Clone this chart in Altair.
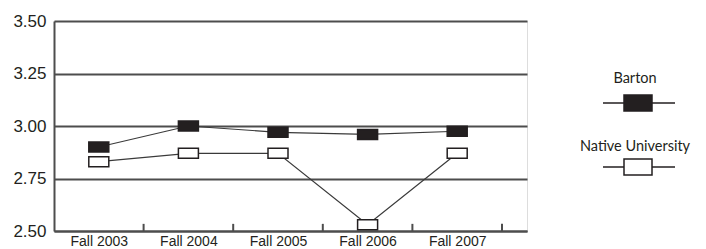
import altair as alt
import pandas as pd

categories = ["Fall 2003", "Fall 2004", "Fall 2005", "Fall 2006", "Fall 2007"]
barton = [2.90, 3.00, 2.97, 2.96, 2.975]
native = [2.83, 2.87, 2.87, 2.53, 2.87]
series_names = ["Barton", "Native University"]
y_ticks = [2.50, 2.75, 3.00, 3.25, 3.50]
band_edges = [1, 2, 3, 4, 5]

rows = []
for i, c in enumerate(categories):
    rows.append({"cat": c, "idx": i + 0.5, "series": "Barton", "value": barton[i]})
    rows.append({"cat": c, "idx": i + 0.5, "series": "Native University", "value": native[i]})
df = pd.DataFrame(rows)
ticks_df = pd.DataFrame({"edge": band_edges, "y0": [2.5] * 5, "y1": [2.534] * 5})

W, H = 473, 210
XMAX = W / 89.6
INK = "#231f20"
GRID = "#4d4d4d"
AXFONT = "Liberation Sans, Arial, sans-serif"
LEGEND_FONT = "Lato, Open Sans, sans-serif"

label_expr = "[" + ",".join('"%s"' % c for c in categories) + "][round(datum.value - 0.5)]"

x_scale = alt.Scale(domain=[0, XMAX], nice=False, zero=False)
y_scale = alt.Scale(domain=[2.5, 3.5], nice=False, zero=False)

x_enc = alt.X("idx:Q", scale=x_scale, axis=alt.Axis(
    values=[i + 0.5 for i in range(len(categories))], labelExpr=label_expr,
    ticks=False, grid=False, title=None, domainColor=GRID, domainWidth=2,
    labelFont=AXFONT, labelFontSize=14, labelColor=INK, labelPadding=3))
y_enc = alt.Y("value:Q", scale=y_scale, axis=alt.Axis(
    values=y_ticks, format=".2f", ticks=False, grid=True, gridColor=GRID,
    gridWidth=2, gridOpacity=1, domainColor=GRID, domainWidth=2, title=None,
    labelFont=AXFONT, labelFontSize=17, labelColor=INK, labelPadding=8))

base = alt.Chart(df)
lines = base.mark_line(color="#3a3a3a", strokeWidth=1.2).encode(
    x=x_enc, y=y_enc, detail="series:N")

box_shape = "M-1,-0.5H1V0.5H-1Z"
fill_scale = alt.Scale(domain=series_names, range=[INK, "white"])
points = base.mark_point(shape=box_shape, size=400, filled=True, opacity=1,
                         stroke=INK, strokeWidth=1.5).encode(
    x="idx:Q", y="value:Q",
    fill=alt.Fill("series:N", scale=fill_scale, legend=None))

tick_marks = alt.Chart(ticks_df).mark_rule(color=GRID, strokeWidth=2).encode(
    x="edge:Q", y="y0:Q", y2="y1:Q")

# legend drawn by hand to the right of the plot
leg_df = pd.DataFrame({"series": series_names})
leg_layers = []
leg_box = "M-1,-0.57H1V0.57H-1Z"
for name, ty, sy in [("Barton", 58, 82), ("Native University", 126, 146)]:
    src = alt.Chart(leg_df).transform_filter(alt.datum.series == name)
    leg_layers.append(src.mark_text(font=LEGEND_FONT, fontSize=14.5, color=INK,
                                    baseline="middle", align="center").encode(
        text="series:N", x=alt.value(581), y=alt.value(ty)))
    leg_layers.append(src.mark_rule(color=INK, strokeWidth=1.5).encode(
        x=alt.value(549), x2=alt.value(621), y=alt.value(sy)))
    leg_layers.append(src.mark_point(shape=leg_box, size=784, filled=True, opacity=1,
                                     stroke=INK, strokeWidth=1.5).encode(
        x=alt.value(584), y=alt.value(sy),
        fill=alt.Fill("series:N", scale=fill_scale, legend=None)))

chart = alt.layer(lines, tick_marks, points, *leg_layers).properties(
    width=W, height=H,
    autosize=alt.AutoSizeParams(type="none"),
    padding={"left": 46, "top": 13, "right": 170, "bottom": 18},
).configure_view(stroke=None).configure(background="white")

chart.save("out.html", embed_options={"renderer": "svg", "actions": False})
